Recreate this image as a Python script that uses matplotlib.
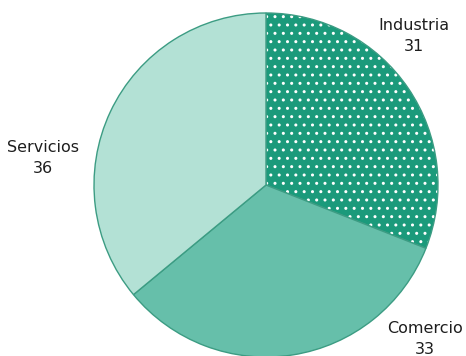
import matplotlib
matplotlib.use('Agg')
import matplotlib.pyplot as plt
import matplotlib.colors as mcolors

etiquetas = ['Industria', 'Comercio', 'Servicios']
valores = [31, 33, 36]
colores = ['#1b9a7b', '#66bfaa', '#b3e1d5']

plt.rcParams['hatch.linewidth'] = 1.0

fig = plt.figure(figsize=(4.66, 3.56), dpi=100)
# pie centre ~ (266, 185) px, radius ~172 px
ax = fig.add_axes([(266 - 172) / 466, (171 - 172) / 356, 344 / 466, 344 / 356])

wedges, _ = ax.pie(valores, colors=colores, startangle=90, counterclock=False,
                   radius=1.0,
                   wedgeprops=dict(edgecolor='#3c9c83', linewidth=1.0))

# dotted pattern on Industria
wedges[0].set_hatch('..')
if hasattr(wedges[0], 'set_hatchcolor'):
    wedges[0].set_hatchcolor('white')
else:
    wedges[0]._hatch_color = mcolors.to_rgba('white')

ax.set_xlim(-1, 1)
ax.set_ylim(-1, 1)
ax.set_aspect('equal')
ax.axis('off')

# label baselines in figure pixels: (x centre, name baseline, value baseline)
pos = {'Industria': (414, 30, 51), 'Comercio': (425, 333, 354), 'Servicios': (43, 152, 173)}
fuente = dict(family='DejaVu Sans', fontsize=11.5,
              color='#1e1e1e', ha='center', va='baseline')
for lab, val in zip(etiquetas, valores):
    x, y1, y2 = pos[lab]
    fig.text(x / 466, 1 - y1 / 356, lab, **fuente)
    fig.text(x / 466, 1 - y2 / 356, str(val), **fuente)

fig.savefig('out.png', dpi=100)
